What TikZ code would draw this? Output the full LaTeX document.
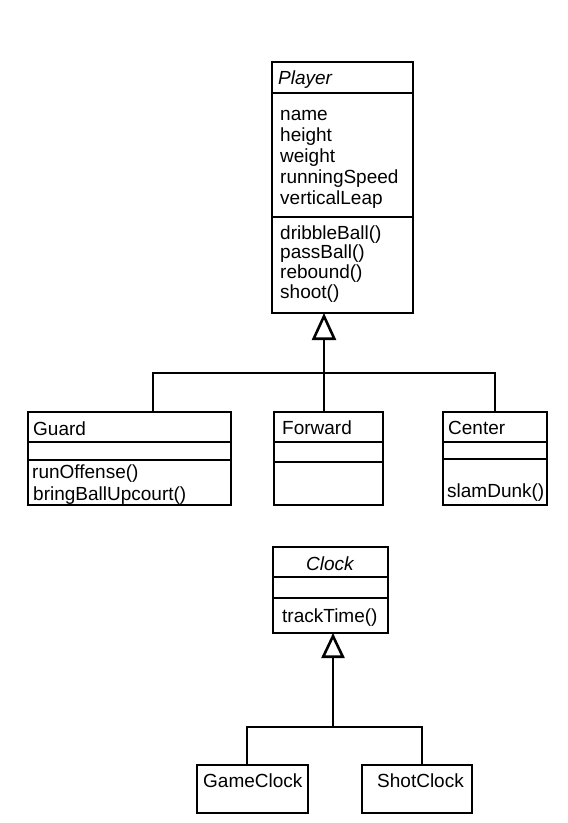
\documentclass[tikz,border=0pt]{standalone}
\usepackage{fontspec}
\setmainfont{Liberation Sans}
\usetikzlibrary{arrows.meta}
\begin{document}
\begin{tikzpicture}[x=1pt,y=-1pt,
  classbox/.style={draw, line width=2.8pt, inner sep=0pt, outer sep=0pt, anchor=north west},
  sepline/.style={line width=2.2pt},
  lbl/.style={inner sep=0pt, anchor=base west, font=\fontsize{19}{21}\selectfont},
  ttl/.style={inner sep=0pt, anchor=base west, font=\fontsize{19}{21}\selectfont\itshape},
  conn/.style={line width=2.6pt},
  genA/.style={-{Triangle[open, fill=white, length=27pt, width=24pt]}},
  genB/.style={-{Triangle[open, fill=white, length=25pt, width=23pt]}}]
\useasboundingbox (0,0) rectangle (568,823);
% Player
\node[classbox, minimum width=141pt, minimum height=251pt] (player) at (272,62) {};
\draw[sepline] (272,93) -- (413,93);
\draw[sepline] (272,217) -- (413,217);
\node[ttl] (playerT) at (278,84) {Player};
\foreach \t [count=\i] in {name,height,weight,runningSpeed,verticalLeap}
  \node[lbl] (pa\i) at (280,{120+21.2*(\i-1)}) {\t};
\foreach \t [count=\i] in {dribbleBall(),passBall(),rebound(),shoot()}
  \node[lbl] (pm\i) at (280,{239+19.7*(\i-1)}) {\t};
% Guard
\node[classbox, minimum width=203pt, minimum height=93pt] (guard) at (28,412) {};
\draw[sepline] (28,442) -- (231,442);
\draw[sepline] (28,460) -- (231,460);
\node[lbl] (guardT) at (33,435) {Guard};
\node[lbl] (gm1) at (32,478) {runOffense()};
\node[lbl] (gm2) at (33,500) {bringBallUpcourt()};
% Forward
\node[classbox, minimum width=109pt, minimum height=93pt] (forward) at (274,412) {};
\draw[sepline] (274,442) -- (383,442);
\draw[sepline] (274,462) -- (383,462);
\node[lbl] (forwardT) at (282,434) {Forward};
% Center
\node[classbox, minimum width=104pt, minimum height=93pt] (center) at (443,412) {};
\draw[sepline] (443,442) -- (547,442);
\draw[sepline] (443,459) -- (547,459);
\node[lbl] (centerT) at (448,434) {Center};
\node[lbl] (cm1) at (447,497) {slamDunk()};
% Player hierarchy
\coordinate (j1) at (324,373);
\coordinate (g1) at (153,373);
\coordinate (c1) at (495,373);
\draw[conn] (guard.north -| g1) -- (g1) -- (c1) -- (center.north -| c1);
\draw[conn, genA] (forward.north -| j1) -- (player.south -| j1);
% Clock
\node[classbox, minimum width=115pt, minimum height=86pt] (clock) at (273,547) {};
\draw[sepline] (273,577) -- (388,577);
\draw[sepline] (273,598) -- (388,598);
\node[ttl, anchor=base] (clockT) at (330,570) {Clock};
\node[lbl] (km1) at (282,622) {trackTime()};
% GameClock, ShotClock
\node[classbox, minimum width=111pt, minimum height=48pt] (gameclock) at (197,765) {};
\node[lbl] (gameclockT) at (203,787) {GameClock};
\node[classbox, minimum width=110pt, minimum height=48pt] (shotclock) at (362,765) {};
\node[lbl] (shotclockT) at (377,787) {ShotClock};
% Clock hierarchy
\coordinate (j2) at (333,727);
\coordinate (g2) at (247,727);
\coordinate (s2) at (422,727);
\draw[conn] (gameclock.north -| g2) -- (g2) -- (s2) -- (shotclock.north -| s2);
\draw[conn, genB] (j2) -- (clock.south -| j2);
\end{tikzpicture}
\end{document}
